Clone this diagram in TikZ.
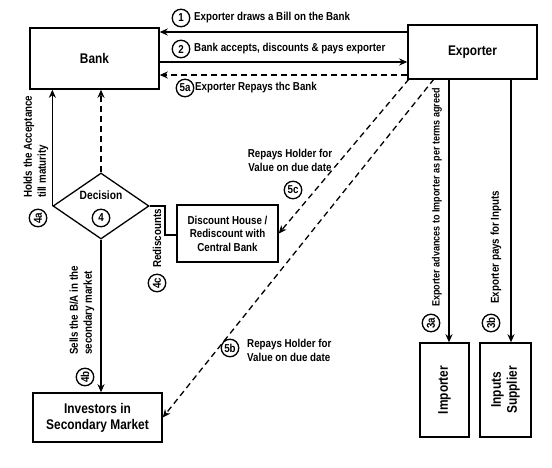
\documentclass[tikz,border=0pt]{standalone}
\usepackage{fontspec}
\setmainfont[FakeStretch=0.85]{Liberation Sans}
\usetikzlibrary{arrows.meta,shapes.geometric}
\begin{document}
\begin{tikzpicture}[x=1pt,y=-1pt,
  box/.style={draw,line width=1.5pt,inner sep=0pt,align=center,font=\bfseries\fontsize{14}{16}\selectfont},
  boxtxt/.style={inner sep=0pt,align=center,font=\bfseries\fontsize{14}{16}\selectfont},
  lbl/.style={font=\bfseries\fontsize{11.5}{14}\selectfont,inner sep=0pt},
  num/.style={draw,circle,line width=1.3pt,minimum size=17.5pt,inner sep=0pt,font=\bfseries\fontsize{11.5}{12}\selectfont},
  arr/.style={line width=1.3pt,-{Stealth[length=8pt,width=7pt,inset=2.5pt]}},
  dsh/.style={line width=1.3pt,dash pattern=on 6pt off 4pt},
  ln/.style={line width=1.3pt}
]
\useasboundingbox (0,0) rectangle (552,468);

% boxes
\node[box,minimum width=129pt,minimum height=61pt] (bank) at (94.5,58.5) {Bank};
\node[box,minimum width=129pt,minimum height=54pt] (exp) at (472.5,52) {Exporter};
\node[box,minimum width=101pt,minimum height=57pt,font=\bfseries\fontsize{11.5}{13.5}\selectfont] (disc) at (227.5,233.5) {Discount House /\\Rediscount with\\Central Bank};
\node[box,minimum width=129pt,minimum height=49pt] (inv) at (97.5,417.5) {Investors in\\Secondary Market};
\node[box,minimum width=49pt,minimum height=94pt] (imp) at (444.5,390) {};
\node[boxtxt,rotate=90] (impt) at (imp.center) {Importer};
\node[box,minimum width=51pt,minimum height=94pt] (sup) at (505.5,390) {};
\node[boxtxt,rotate=90] (supt) at (sup.center) {Inputs\\Supplier};

% decision diamond
\node[draw,diamond,line width=1.3pt,minimum width=96pt,minimum height=66pt,inner sep=0pt] (dec) at (101,206) {};
\node[lbl,font=\bfseries\fontsize{12}{14}\selectfont] (dect) at (101,195) {Decision};
\node[num] (n4) at (101,218) {4};

% helper coordinates
\coordinate (y1) at (0,32);
\coordinate (y2) at (0,62);
\coordinate (y5) at (0,75);
\coordinate (rb) at (165,235);
\coordinate (e5c) at (409,79);
\coordinate (e5b) at (434,79);
\coordinate (e3a) at (449,79);
\coordinate (e3b) at (511,79);

% connectors
\draw[arr] (exp.west|-y1) -- (bank.east|-y1);
\draw[arr] (bank.east|-y2) -- (exp.west|-y2);
\draw[dsh,arr] (exp.west|-y5) -- (bank.east|-y5);
\draw[arr] (dec.west) -- (dec.west|-bank.south);
\draw[dsh,arr] (dec.north) -- (dec.north|-bank.south);
\draw[ln] (dec.east) -| (rb) -- (rb-|disc.west);
\draw[arr] (dec.south) -- (dec.south|-inv.north);
\draw[dsh,arr] (e5c) -- (disc.east);
\draw[dsh,arr] (e5b) -- (inv.east);
\draw[arr] (e3a) -- (e3a|-imp.north);
\draw[arr] (e3b) -- (e3b|-sup.north);

% labels
\node[num] (n1) at (181,18) {1};
\node[lbl,anchor=west] (t1) at (194,18) {Exporter draws a Bill on the Bank};
\node[num] (n2) at (181,49) {2};
\node[lbl,anchor=west] (t2) at (194,49) {Bank accepts, discounts \& pays exporter};
\node[num] (n5a) at (185,88) {5a};
\node[lbl,anchor=west] (t5a) at (195,88) {Exporter Repays thc Bank};

\node[num,rotate=90] (n4a) at (38,218) {4a};
\node[lbl,rotate=90,anchor=west,align=left] (t4a) at (36,198) {Holds the Acceptance\\till maturity};
\node[num,rotate=90] (n4b) at (85,377) {4b};
\node[lbl,rotate=90,anchor=west,align=left] (t4b) at (82,355) {Sells the B/A in the\\secondary market};
\node[num,rotate=90] (n4c) at (157,283) {4c};
\node[lbl,rotate=90,anchor=west] (t4c) at (157,268) {Rediscounts};

\node[lbl,align=center] (t5c) at (290,160) {Repays Holder for\\Value on due date};
\node[num] (n5c) at (293,190) {5c};
\node[num] (n5b) at (230,348) {5b};
\node[lbl,align=left,anchor=west] (t5b) at (247,350) {Repays Holder for\\Value on due date};

\node[num,rotate=90] (n3a) at (431,323) {3a};
\node[lbl,rotate=90,anchor=west,font=\bfseries\fontsize{10.6}{12}\selectfont] (t3a) at (437,307) {Exporter advances to Importer as per terms agreed};
\node[num,rotate=90] (n3b) at (491,323) {3b};
\node[lbl,rotate=90,anchor=west] (t3b) at (496,304) {Exporter pays for Inputs};
\end{tikzpicture}
\end{document}
